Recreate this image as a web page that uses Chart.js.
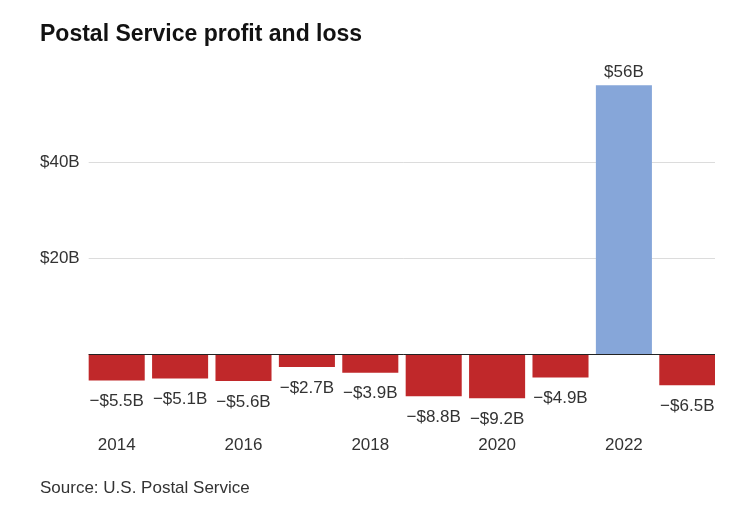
<!DOCTYPE html>
<html>
<head>
<meta charset="utf-8">
<script src="https://cdn.jsdelivr.net/npm/chart.js@4"></script>
<style>
  body { margin: 0; background: #fff; font-family: "Liberation Sans", Arial, sans-serif; }
  #wrap { position: relative; width: 732px; height: 513px; }
  #clip { position: absolute; left: 0; top: 0; width: 715px; height: 513px; overflow: hidden; }
  #title { position: absolute; left: 40px; top: 18px; margin: 0; font-size: 23px; line-height: 30px; font-weight: bold; color: #121212; }
  #source { position: absolute; left: 40px; top: 478px; margin: 0; font-size: 17px; line-height: 20px; color: #333; }
</style>
</head>
<body>
<div id="wrap">
  <div id="clip"><canvas id="chart" width="719" height="513"></canvas></div>
  <h1 id="title">Postal Service profit and loss</h1>
  <p id="source">Source: U.S. Postal Service</p>
</div>
<script>
// Chart data
const years = ["2014", "2015", "2016", "2017", "2018", "2019", "2020", "2021", "2022", "2023"];
const profitLoss = [-5.5, -5.1, -5.6, -2.7, -3.9, -8.8, -9.2, -4.9, 56, -6.5];
const yTicks = [20, 40];

const RED = "#c0282a";
const BLUE = "#86a6d9";

// Format a value like "−$5.5B" or "$56B"
const fmt = (v) => (v < 0 ? "\u2212$" : "$") + Math.abs(v) + "B";

// Gridlines behind the bars, zero line over them, value labels
const linesAndLabels = {
  id: "linesAndLabels",
  beforeDatasetsDraw(chart) {
    const { ctx, scales } = chart;
    const bar0 = chart.getDatasetMeta(0).data[0];
    const x0 = bar0.x - bar0.width / 2;
    ctx.save();
    ctx.strokeStyle = "#dcdcdc";
    ctx.lineWidth = 1;
    yTicks.forEach((t) => {
      const y = Math.round(scales.y.getPixelForValue(t)) + 0.5;
      ctx.beginPath();
      ctx.moveTo(x0, y);
      ctx.lineTo(chart.width, y);
      ctx.stroke();
    });
    ctx.restore();
  },
  afterDatasetsDraw(chart) {
    const { ctx, scales } = chart;
    const meta = chart.getDatasetMeta(0);
    const x0 = meta.data[0].x - meta.data[0].width / 2;
    ctx.save();
    const y0 = Math.round(scales.y.getPixelForValue(0)) + 0.5;
    ctx.strokeStyle = "#222";
    ctx.lineWidth = 1;
    ctx.beginPath();
    ctx.moveTo(x0, y0);
    ctx.lineTo(chart.width, y0);
    ctx.stroke();

    ctx.font = '17px "Liberation Sans", Arial, sans-serif';
    ctx.fillStyle = "#333";
    ctx.textAlign = "center";
    ctx.textBaseline = "middle";
    meta.data.forEach((bar, i) => {
      const v = profitLoss[i];
      const y = v < 0 ? bar.y + 21 : bar.y - 13;
      ctx.fillText(fmt(v), bar.x, y);
    });
    ctx.restore();
  },
};

const ctx = document.getElementById("chart").getContext("2d");
new Chart(ctx, {
  type: "bar",
  data: {
    labels: years,
    datasets: [
      {
        data: profitLoss,
        backgroundColor: profitLoss.map((v) => (v < 0 ? RED : BLUE)),
        barPercentage: 0.884,
        categoryPercentage: 1,
      },
    ],
  },
  options: {
    responsive: false,
    animation: false,
    events: [],
    layout: { padding: { left: 40, top: 66, right: 0, bottom: 51.8 } },
    plugins: { legend: { display: false }, tooltip: { enabled: false } },
    scales: {
      x: {
        grid: { display: false },
        border: { display: false },
        ticks: {
          autoSkip: false,
          maxRotation: 0,
          padding: 6,
          color: "#333",
          font: { family: '"Liberation Sans", Arial, sans-serif', size: 17 },
          callback: (val, i) => (i % 2 === 0 ? years[i] : ""),
        },
        afterFit: (scale) => { scale.height = 40; },
      },
      y: {
        min: -14,
        max: 60,
        grid: { display: false },
        border: { display: false },
        afterBuildTicks: (scale) => { scale.ticks = yTicks.map((v) => ({ value: v })); },
        ticks: {
          crossAlign: "far",
          padding: 6,
          color: "#333",
          font: { family: '"Liberation Sans", Arial, sans-serif', size: 17 },
          callback: (v) => "$" + v + "B",
        },
        afterFit: (scale) => { scale.width = 45; },
      },
    },
  },
  plugins: [linesAndLabels],
});
</script>
</body>
</html>
